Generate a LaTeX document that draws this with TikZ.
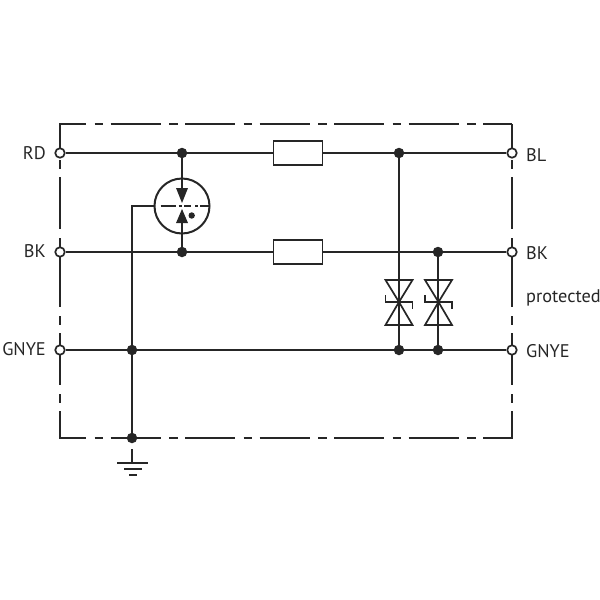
\documentclass[tikz,border=0pt]{standalone}
\usepackage{fontspec}
\setmainfont{PT Sans}
\begin{document}
\begin{tikzpicture}[x=1pt,y=-1pt,
  wire/.style={line width=1.7pt,draw=black!85},
  hframe/.style={line width=2pt,draw=black!85,dash pattern=on 50pt off 8.5pt on 8.5pt off 7.5pt,dash phase=23pt},
  vframe/.style={line width=2pt,draw=black!85,dash pattern=on 52pt off 9pt on 9pt off 8pt,dash phase=25pt},
  dotj/.style={circle,fill=black!85,draw=none,minimum size=10.5pt,inner sep=0pt},
  term/.style={circle,fill=white,draw=black!85,line width=1.7pt,minimum size=9.5pt,inner sep=0pt},
  res/.style={rectangle,fill=white,draw=black!85,line width=1.8pt,minimum width=49pt,minimum height=24pt,inner sep=0pt},
  lab/.style={font=\fontsize{18.3}{20}\selectfont,text=black!85,inner sep=0pt},
  tip/.style={fill=black!85,draw=none},
  gap/.style={line width=1.6pt,draw=black!85}]
\useasboundingbox (0,0) rectangle (600,600);
\draw[hframe] (59,124) -- (512,124);
\draw[vframe] (60,124) -- (60,438);
\draw[vframe] (512,124) -- (512,438);
\draw[hframe] (59,438) -- (513,438);
\node[term] (tRD) at (60,153) {};
\node[term] (tBK) at (60,252) {};
\node[term] (tG) at (60,350) {};
\node[term] (tBL) at (512,153) {};
\node[term] (tBKr) at (512,252) {};
\node[term] (tGr) at (512,350) {};
\node[dotj] (j1) at (182,153) {};
\node[dotj] (j2) at (399,153) {};
\node[dotj] (j3) at (182,252) {};
\node[dotj] (j4) at (438,252) {};
\node[dotj] (j5) at (132,350) {};
\node[dotj] (j6) at (399,350) {};
\node[dotj] (j7) at (438,350) {};
\node[dotj] (j8) at (132,438) {};
\node[res] (r1) at (298,153) {};
\node[res] (r2) at (298,252) {};
\draw[wire] (tRD) -- (j1) -- (r1) -- (j2) -- (tBL);
\draw[wire] (tBK) -- (j3) -- (r2) -- (j4) -- (tBKr);
\draw[wire] (tG) -- (j5) -- (j6) -- (j7) -- (tGr);
\draw[wire] (j5) -- (j8);
\draw[wire] (j2) -- (j6);
\draw[wire] (j4) -- (j7);
% gas discharge tube
\node[circle,draw=black!85,line width=2pt,minimum size=55pt,inner sep=0pt] (gdt) at (182,206) {};
\draw[wire] (j1) -- (182,192);
\draw[wire] (j3) -- (182,220);
\fill[tip] (176,188) -- (188,188) -- (182,203) -- cycle;
\fill[tip] (176,223) -- (188,223) -- (182,209) -- cycle;
\fill[black!85] (191.7,215.5) circle (3.2pt);
\draw[gap] (160.5,206) -- (176,206);
\draw[gap] (178.5,206) -- (181.5,206);
\draw[gap] (184,206) -- (191,206);
\draw[gap] (195,206) -- (197.5,206);
\draw[gap] (200,206) -- (209.5,206);
\draw[wire] (j8) -- (132,206) -- (gdt.west);
% suppressor diodes
\foreach \x/\n in {399/a,438.5/b}{
  \draw[wire] (\x-13.5,280) -- (\x+13.5,280) -- (\x,302) -- cycle;
  \draw[wire] (\x-13.5,325) -- (\x+13.5,325) -- (\x,302) -- cycle;
  \draw[wire] (\x-13.5,295) -- (\x-13.5,302) -- (\x+13.5,302) -- (\x+13.5,309);
}
% ground
\coordinate (g0) at (132,449);
\coordinate (g1) at (132,463);
\draw[wire] (g0) -- (g1);
\draw[line width=2pt,draw=black!85] (117,463) -- (148,463);
\draw[line width=2pt,draw=black!85] (124,469) -- (142,469);
\draw[line width=2pt,draw=black!85] (129,475) -- (137,475);
\node[lab,anchor=east] (l1) at (46,153) {RD};
\node[lab,anchor=east] (l2) at (46,251) {BK};
\node[lab,anchor=east] (l3) at (46,349) {GNYE};
\node[lab,anchor=west] (l4) at (526,155) {BL};
\node[lab,anchor=west] (l5) at (526,253) {BK};
\node[lab,anchor=west] (l6) at (526,298) {protected};
\node[lab,anchor=west] (l7) at (526,351) {GNYE};
\end{tikzpicture}
\end{document}
